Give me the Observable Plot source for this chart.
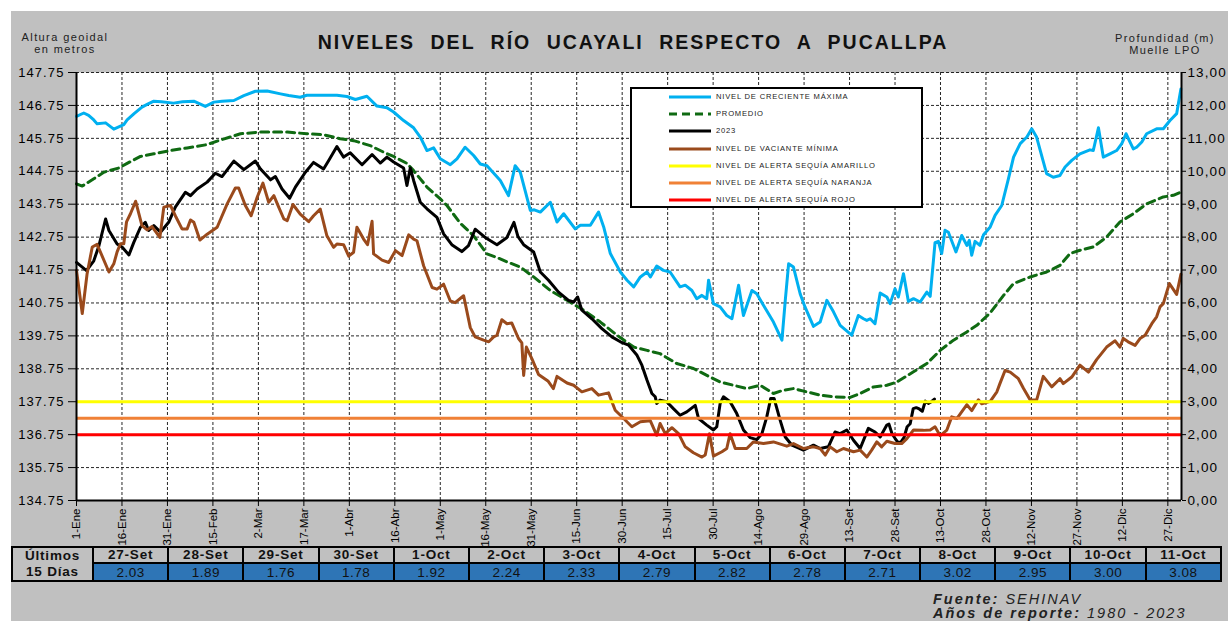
<!DOCTYPE html>
<html><head><meta charset="utf-8">
<script src="https://cdn.jsdelivr.net/npm/d3@7"></script>
<script src="https://cdn.jsdelivr.net/npm/@observablehq/plot@0.6"></script>
<style>
body{margin:0;background:#fff;}
#wrap{position:relative;width:1228px;height:621px;overflow:hidden;background:#fff;font-family:"Liberation Sans",Arial,sans-serif;color:#111;}
#bg{position:absolute;left:11px;top:11px;width:1217px;height:610px;background:#c0c0c0;}
#chart{position:absolute;left:0;top:0;}
.abs{position:absolute;white-space:nowrap;line-height:1;}
#legend{position:absolute;left:630px;top:87px;width:293px;height:121px;box-sizing:border-box;border:2px solid #000;background:#fff;}
.lrow{position:absolute;left:669px;height:10px;line-height:10px;white-space:nowrap;}
.lrow svg{position:absolute;left:0;top:0;}
.lrow span{position:absolute;left:47px;top:0;font-size:7.6px;letter-spacing:0.8px;color:#222;}
#tbl{position:absolute;left:11px;top:546px;border-collapse:collapse;table-layout:fixed;width:1211px;}
#tbl td{border:2px solid #000;padding:0;text-align:center;vertical-align:middle;overflow:hidden;white-space:nowrap;}
#tbl td.h{background:#c0c0c0;font-weight:bold;font-size:13.5px;letter-spacing:0.8px;height:14px;line-height:14px;}
#tbl td.v{background:#2e75b6;font-size:13.5px;letter-spacing:0.5px;height:15px;line-height:15px;color:#111;}
#tbl td.f{background:#c0c0c0;font-weight:bold;font-size:13.5px;letter-spacing:0.8px;line-height:16px;}
</style></head><body>
<div id="wrap">
<div id="bg"></div>
<div id="chart"></div>
<div class="abs" style="left:233px;width:800px;top:32.5px;text-align:center;font-size:19.5px;font-weight:bold;letter-spacing:2px;word-spacing:8px;color:#111">NIVELES DEL RÍO UCAYALI RESPECTO A PUCALLPA</div>
<div class="abs" style="left:15px;width:100px;top:30.7px;text-align:center;font-size:11px;letter-spacing:1.4px;line-height:12.3px;color:#222">Altura geoidal<br>en metros</div>
<div class="abs" style="left:1065px;width:200px;top:33.1px;text-align:center;font-size:11px;letter-spacing:1.4px;line-height:11.5px;color:#222">Profundidad (m)<br>Muelle LPO</div>
<div id="legend"></div>
<div id="legendRows"></div>
<table id="tbl"></table>
<div class="abs" style="left:933px;top:592px;font-size:14.5px;letter-spacing:2px;line-height:14px;font-style:italic;color:#222"><b>Fuente:</b> SEHINAV<br><b>Años de reporte:</b> 1980 - 2023</div>
</div>
<script>
// ---------- data ----------
const levelTicks = [134.75,135.75,136.75,137.75,138.75,139.75,140.75,141.75,142.75,143.75,144.75,145.75,146.75,147.75];
const depthLabels = ["0,00","1,00","2,00","3,00","4,00","5,00","6,00","7,00","8,00","9,00","10,00","11,00","12,00","13,00"];
const depthZero = 134.75;
const tickDays = [0,15,30,45,60,75,90,105,120,135,150,165,180,195,210,225,240,255,270,285,300,315,330,345,360];
const tickLabels = ["1-Ene","16-Ene","31-Ene","15-Feb","2-Mar","17-Mar","1-Abr","16-Abr","1-May","16-May","31-May","15-Jun","30-Jun","15-Jul","30-Jul","14-Ago","29-Ago","13-Set","28-Set","13-Oct","28-Oct","12-Nov","27-Nov","12-Dic","27-Dic"];
const alertAmarillo = 137.75, alertNaranja = 137.25, alertRojo = 136.75;

const ultimosFechas = ["27-Set","28-Set","29-Set","30-Set","1-Oct","2-Oct","3-Oct","4-Oct","5-Oct","6-Oct","7-Oct","8-Oct","9-Oct","10-Oct","11-Oct"];
const ultimosDias = [269,270,271,272,273,274,275,276,277,278,279,280,281,282,283];
const ultimosProfundidad = [2.03,1.89,1.76,1.78,1.92,2.24,2.33,2.79,2.82,2.78,2.71,3.02,2.95,3.00,3.08];

const crecienteMaxima = [[0,146.42],[2.4,146.52],[4,146.45],[5.7,146.31],[6.8,146.19],[9.6,146.22],[12.3,146.03],[15.6,146.17],[16.7,146.31],[19,146.5],[21.6,146.70],[23.3,146.78],[25.5,146.88],[28,146.86],[32,146.82],[35,146.86],[38.7,146.88],[42.5,146.72],[45.3,146.85],[48,146.88],[51.9,146.9],[55.2,147.05],[59,147.18],[62.9,147.19],[67.3,147.10],[70,147.05],[73.8,147.0],[76,147.06],[80,147.06],[85.9,147.06],[89.2,147.02],[92,146.93],[95.8,147.03],[99.1,146.73],[102.4,146.68],[104.6,146.55],[107.9,146.29],[111.2,146.07],[113.4,145.79],[115.6,145.38],[117.8,145.46],[120,145.13],[123.3,144.95],[125.5,145.13],[128.2,145.48],[131,145.23],[133.2,144.97],[135.4,144.92],[139.8,144.47],[142.5,144.01],[144.7,144.92],[146.4,144.72],[149.7,143.56],[151,143.58],[153,143.51],[156.3,143.81],[158.5,143.21],[160.7,143.46],[164.5,143.0],[166.2,143.11],[169.5,143.11],[172.2,143.51],[173.9,143.06],[176.1,142.25],[179.4,141.69],[181.6,141.44],[183.8,141.24],[186,141.54],[188.2,141.69],[189.3,141.54],[191.4,141.87],[193.6,141.74],[195.8,141.69],[199.1,141.24],[200.8,141.29],[203,141.13],[204.6,140.88],[206.3,140.98],[207.9,140.88],[208.5,141.44],[210.1,140.73],[212.3,140.63],[214.5,140.37],[216.2,140.27],[218.4,141.29],[220,140.37],[222.8,141.13],[224.4,141.03],[226.6,140.68],[229.9,140.17],[232.7,139.62],[233.8,140.83],[234.9,141.94],[236.5,141.84],[238.7,141.03],[240.3,140.63],[243.1,140.04],[245.3,140.17],[247.5,140.83],[249.7,140.48],[251.9,140.07],[255.7,139.77],[257.9,140.37],[259.6,140.27],[260.7,140.22],[261.8,140.27],[263.4,140.12],[265.1,141.05],[267.3,140.93],[268.4,140.73],[270,141.18],[271.1,140.93],[272.8,141.64],[274.4,140.8],[276.1,140.88],[278.3,140.78],[280.5,141.08],[281.6,140.95],[283.2,142.58],[284.3,142.62],[285.4,142.25],[286.5,142.96],[287.6,142.9],[290.1,142.3],[292,142.8],[293.7,142.5],[294.5,142.65],[295.3,142.2],[296.4,142.62],[298,142.5],[299.2,142.82],[301.4,143.06],[303,143.41],[305.2,143.71],[307.4,144.52],[309.1,145.18],[311.3,145.59],[313.5,145.79],[315.1,146.04],[316.7,145.79],[320,144.68],[322.2,144.57],[324.4,144.62],[326.1,144.88],[328.3,145.08],[331,145.28],[334.3,145.4],[335.4,145.38],[337.1,146.07],[338.7,145.18],[340.9,145.28],[343.1,145.38],[344.8,145.59],[346.2,145.89],[348.6,145.43],[349.7,145.48],[351.4,145.64],[353,145.89],[356.3,146.04],[358.5,146.04],[360.7,146.29],[362.9,146.5],[364.3,147.25]];

const promedio = [[0,144.37],[1.9,144.30],[5.7,144.52],[9,144.72],[14,144.85],[16.7,144.99],[21.1,145.2],[25.5,145.28],[31,145.38],[36.5,145.46],[43.1,145.56],[47.5,145.7],[54.1,145.89],[60.7,145.94],[69.5,145.94],[76,145.89],[81.5,145.86],[87,145.74],[91.4,145.68],[96.9,145.53],[101.3,145.33],[104.6,145.2],[109,144.99],[111.2,144.77],[115.6,144.27],[120,143.91],[122.2,143.71],[126.6,143.17],[131,142.79],[135.4,142.24],[138.7,142.13],[142,142.0],[146.4,141.84],[150.8,141.54],[156.3,141.13],[161.8,140.83],[167.3,140.53],[172.8,140.17],[178.3,139.77],[183.8,139.41],[188.2,139.31],[192.5,139.21],[198,138.91],[203.5,138.76],[209,138.5],[212.3,138.35],[216.7,138.25],[221.1,138.15],[225.5,138.25],[229.9,138.0],[233.2,138.1],[236.5,138.15],[240.9,138.05],[245.3,137.95],[249.7,137.9],[255.2,137.88],[258.5,138.0],[262.9,138.2],[267.3,138.25],[270.6,138.35],[276.1,138.66],[280.5,138.91],[284.9,139.31],[289.3,139.62],[293.7,139.87],[297,140.07],[301.4,140.45],[305.8,140.98],[309.1,141.34],[314.6,141.54],[320,141.69],[324.4,141.89],[327.7,142.25],[331,142.35],[335.4,142.45],[339.8,142.75],[344.2,143.21],[348.6,143.46],[353,143.76],[358.5,143.97],[361.8,144.02],[364.3,144.12]];

const nivel2023Hasta26Set = [[0,141.98],[3.3,141.73],[5.7,142.03],[7.4,142.49],[9.6,143.3],[10.7,142.95],[13.4,142.54],[15.1,142.44],[17.3,142.21],[18.9,142.59],[21.1,143.05],[22.7,143.2],[23.8,142.95],[25.5,143.1],[27.7,142.9],[30.4,143.2],[32.6,143.66],[35.9,144.11],[37.6,144.01],[39.8,144.21],[43.1,144.42],[45.8,144.69],[48,144.59],[51.9,145.06],[55.2,144.8],[59,145.06],[60.7,144.82],[64,144.49],[65.6,144.59],[67.8,144.21],[70.3,143.93],[72.2,144.27],[75.5,144.72],[78.2,145.02],[81.5,144.82],[83.2,145.08],[85.9,145.5],[88.1,145.18],[90.3,145.31],[94.2,144.95],[97.5,145.26],[100.2,145.0],[102.4,145.18],[104.6,145.03],[107.9,144.85],[109,144.32],[110.1,144.85],[111.2,144.47],[113.4,143.81],[115.6,143.61],[118.9,143.35],[121.1,142.85],[123.8,142.52],[127.1,142.31],[129.3,142.49],[131.5,142.99],[134.8,142.74],[138.7,142.52],[142,142.74],[144.3,143.2],[145.6,142.77],[147.5,142.52],[150.8,142.3],[153,141.69],[155.7,141.44],[159,141.08],[162.3,140.83],[164,140.78],[165.3,140.93],[166.7,140.53],[170,140.27],[173.3,139.97],[176.6,139.72],[179.4,139.57],[182.1,139.47],[184.9,139.16],[186.5,138.86],[188.2,138.4],[189.8,138.0],[190.9,137.9],[191.4,137.7],[192.5,137.8],[194.7,137.75],[196.9,137.54],[199.1,137.34],[201.3,137.44],[204.1,137.64],[205.2,137.24],[207.9,137.04],[210.1,136.89],[211.2,136.99],[212.3,137.69],[213.4,137.9],[215.6,137.75],[217.8,137.39],[220,136.89],[222.2,136.66],[224.4,136.6],[226.1,136.78],[227.7,137.29],[229,137.85],[230.1,137.85],[232.1,137.19],[233.8,136.68],[236,136.43],[239.8,136.28],[243.1,136.43],[245.3,136.33],[248,136.38],[250.2,136.83],[251.9,136.78],[254.1,136.89],[256.3,136.58],[258.5,136.33],[261.2,136.94],[263.4,136.83],[265.1,136.68],[267.3,137.04],[268,137.07]];

const vacianteMinima = [[0,141.74],[1.9,140.43],[3.5,141.64],[5.2,142.45],[6.8,142.53],[10.7,141.69],[12.3,141.94],[13.4,142.3],[14.5,142.55],[15.6,142.55],[16.5,143.21],[17.8,143.46],[19.5,143.84],[21.6,143.1],[23.3,142.97],[24.9,143.07],[27.5,142.74],[28.8,143.66],[31,143.71],[32.6,143.4],[34.8,143.0],[36.5,143.0],[37.6,143.27],[38.7,143.2],[40.7,142.66],[43.1,142.84],[46.4,143.05],[49.7,143.76],[52.4,144.24],[53.5,144.24],[55.7,143.71],[57.6,143.4],[59.6,143.96],[61.5,144.39],[63.4,143.81],[65.1,144.01],[66.7,143.66],[68.4,143.3],[69.5,143.25],[71.4,143.74],[73.8,143.45],[76.6,143.22],[78.2,143.4],[80.4,143.6],[82.6,142.79],[84.8,142.44],[85.9,142.54],[88.1,142.52],[89.8,142.17],[91.4,142.29],[92.5,143.05],[94.7,142.69],[96,142.52],[97.5,143.23],[98,142.24],[100.8,142.05],[103,141.98],[105.2,142.34],[107.4,142.19],[109.6,142.82],[111.2,142.69],[112.3,142.64],[114.5,141.88],[117.3,141.22],[118.9,141.17],[121.1,141.32],[123.3,140.81],[124.9,140.76],[127.7,140.97],[129.9,140.0],[131.5,139.72],[134.3,139.62],[136,139.57],[137.6,139.72],[138.7,139.77],[140.3,140.24],[142,140.12],[143.6,140.14],[145.8,139.67],[146.9,139.54],[147.5,138.55],[148.4,139.41],[150.2,139.06],[152.4,138.58],[155.5,138.38],[157.3,138.15],[158.5,138.52],[161.8,138.32],[164,138.25],[166.7,138.05],[170,138.15],[172.2,137.95],[175.5,138.02],[177.7,137.49],[180.5,137.24],[183.2,136.99],[186,137.14],[189.3,137.17],[191.4,136.73],[192.5,137.09],[194.2,136.78],[196.4,136.96],[198.6,136.78],[200.8,136.38],[203.5,136.2],[206.3,136.07],[207.4,136.13],[208.8,136.78],[210.1,136.1],[212.9,136.23],[214.5,136.33],[215.6,136.78],[217.3,136.33],[221.1,136.33],[223.3,136.53],[226.6,136.48],[229.9,136.53],[234.3,136.4],[236.5,136.48],[239.8,136.33],[243.1,136.38],[245.3,136.33],[247,136.13],[248.6,136.38],[250.8,136.23],[253,136.33],[256.3,136.23],[258.5,136.28],[260.7,136.07],[262.3,136.28],[264,136.53],[265.6,136.38],[267.3,136.55],[270,136.48],[272.2,136.48],[273.9,136.63],[276.1,136.89],[279.4,136.88],[281.6,136.89],[283.2,136.99],[284.9,136.72],[287.1,136.89],[288.7,137.29],[290.4,137.24],[293.7,137.66],[295.3,137.48],[297.5,137.81],[298.6,137.69],[301.4,137.76],[303.6,138.05],[304.6,138.3],[306.3,138.7],[308,138.65],[310.7,138.45],[312.4,138.15],[314.6,137.8],[316.7,137.8],[318.9,138.52],[321.7,138.2],[324.4,138.45],[325.5,138.3],[328.3,138.5],[331,138.86],[333.8,138.65],[336.5,139.03],[339.8,139.41],[342.6,139.6],[344.2,139.41],[345.3,139.67],[346.9,139.57],[349.2,139.46],[350.8,139.67],[352.5,139.77],[354.7,140.12],[356.3,140.33],[357.4,140.63],[358.5,140.73],[359.4,141.01],[360.5,141.34],[361.3,141.23],[362.9,141.01],[364.3,141.62]];

const legendItems = [
  {label: "NIVEL DE CRECIENTE MÁXIMA", color: "#00b0f0", dash: null},
  {label: "PROMEDIO", color: "#0f6a12", dash: "8,5"},
  {label: "2023", color: "#000000", dash: null},
  {label: "NIVEL DE VACIANTE MÍNIMA", color: "#9a4a1c", dash: null},
  {label: "NIVEL DE ALERTA SEQUÍA AMARILLO", color: "#ffff00", dash: null},
  {label: "NIVEL DE ALERTA SEQUÍA NARANJA", color: "#f08136", dash: null},
  {label: "NIVEL DE ALERTA SEQUÍA ROJO", color: "#ff0000", dash: null}
];

// ---------- build ----------
const nivel2023 = nivel2023Hasta26Set.concat(ultimosDias.map((d, i) => [d, depthZero + ultimosProfundidad[i]]));
const lineOpts = (stroke, extra = {}) => ({x: d => d[0], y: d => d[1], stroke, strokeWidth: 3, strokeLinejoin: "round", ...extra});
const gridStyle = {stroke: "#000", strokeOpacity: 0.85, strokeDasharray: "3,2", strokeWidth: 1};

const chart = Plot.plot({
  width: 1228, height: 545,
  marginLeft: 76, marginRight: 47, marginTop: 72, marginBottom: 45,
  style: {background: "transparent", fontFamily: '"Liberation Sans", Arial, sans-serif', fontSize: "12px", overflow: "visible", color: "#000"},
  x: {domain: [0, 364.5]},
  y: {domain: [134.75, 147.75]},
  marks: [
    Plot.frame({fill: "#fff", stroke: null}),
    Plot.gridY(levelTicks, gridStyle),
    Plot.gridX(tickDays, gridStyle),
    Plot.line(crecienteMaxima, lineOpts(legendItems[0].color)),
    Plot.line(promedio, lineOpts(legendItems[1].color, {strokeDasharray: "8,5"})),
    Plot.line(nivel2023, lineOpts(legendItems[2].color)),
    Plot.line(vacianteMinima, lineOpts(legendItems[3].color)),
    Plot.ruleY([alertAmarillo], {stroke: legendItems[4].color, strokeWidth: 3}),
    Plot.ruleY([alertNaranja], {stroke: legendItems[5].color, strokeWidth: 3}),
    Plot.ruleY([alertRojo], {stroke: legendItems[6].color, strokeWidth: 3}),
    Plot.ruleX([0], {stroke: "#000", strokeWidth: 2}),
    Plot.ruleX([364.5], {stroke: "#000", strokeWidth: 2}),
    Plot.ruleY([134.75], {stroke: "#000", strokeWidth: 2}),
    Plot.axisY(levelTicks, {anchor: "left", tickSize: 8, tickPadding: 4, tickFormat: d => d.toFixed(2), fontSize: 13, label: null}),
    Plot.axisY(levelTicks, {anchor: "right", tickSize: 4, tickPadding: 2, tickFormat: d => depthLabels[Math.round(d - depthZero)], fontSize: 13.5, label: null}),
    Plot.axisX(tickDays, {anchor: "bottom", tickSize: 6, tickPadding: 2, tickRotate: -90, tickFormat: d => tickLabels[Math.round(d / 15)], fontSize: 11.5, label: null})
  ]
});
document.getElementById("chart").appendChild(chart);
d3.select(chart).selectAll('g[aria-label="y-axis tick label"] text').style("letter-spacing", "1.1px");

// legend
const lr = document.getElementById("legendRows");
legendItems.forEach((it, i) => {
  const row = document.createElement("div");
  row.className = "lrow";
  row.style.top = (92 + i * 17.2) + "px";
  row.innerHTML = `<svg width="42" height="10"><line x1="0" x2="42" y1="5" y2="5" stroke="${it.color}" stroke-width="3" ${it.dash ? `stroke-dasharray="${it.dash}"` : ""}/></svg><span>${it.label}</span>`;
  lr.appendChild(row);
});

// table
const tbl = document.getElementById("tbl");
let html = `<colgroup><col style="width:81px">${ultimosFechas.map(() => '<col>').join("")}</colgroup>`;
html += `<tr><td class="f" rowspan="2">Últimos<br>15 Días</td>${ultimosFechas.map(f => `<td class="h">${f}</td>`).join("")}</tr>`;
html += `<tr>${ultimosProfundidad.map(v => `<td class="v">${v.toFixed(2)}</td>`).join("")}</tr>`;
tbl.innerHTML = html;
</script>
</body></html>
